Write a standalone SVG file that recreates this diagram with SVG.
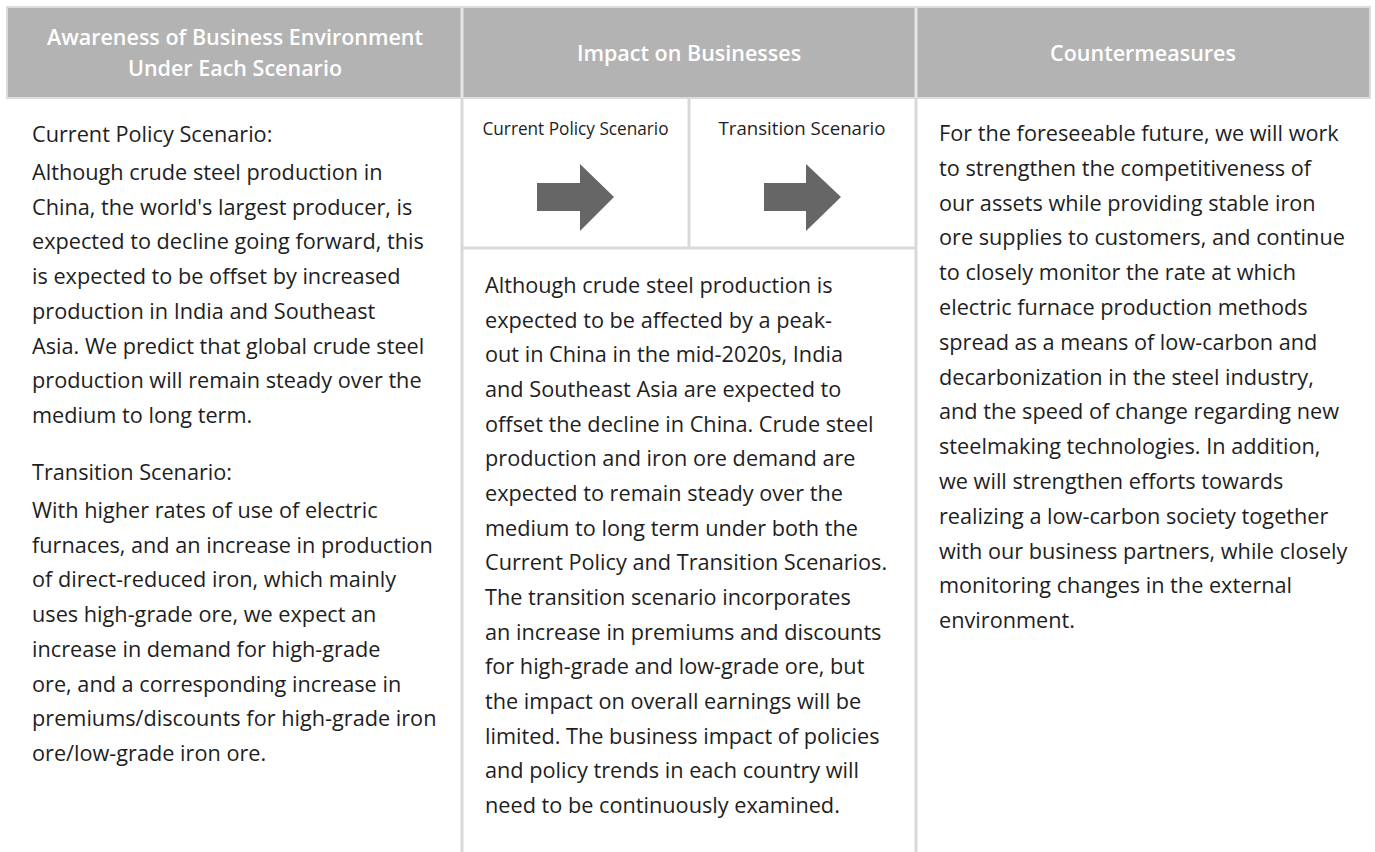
<svg xmlns="http://www.w3.org/2000/svg" width="1375" height="852" viewBox="0 0 1375 852">
<style>
.hd{font-family:"Open Sans","Noto Sans","Liberation Sans",sans-serif;font-size:21.5px;font-weight:600;fill:#ffffff;text-anchor:middle}
.bd{font-family:"Open Sans","Noto Sans","Liberation Sans",sans-serif;font-size:21.7px;fill:#1e1e1e}
.sm{font-family:"Open Sans","Noto Sans","Liberation Sans",sans-serif;font-size:18.5px;fill:#1e1e1e;text-anchor:middle}
.ln{stroke:#d9d9d9;stroke-width:3;fill:none}
.wl{stroke:#e6e6e6;stroke-width:3}
.ar{fill:#666666}
</style>
<rect x="0" y="0" width="1375" height="852" fill="#ffffff"/>
<g id="header">
<rect x="7" y="7" width="1363" height="91" fill="#b3b3b3" stroke="#dcdcdc" stroke-width="2"/>
<line class="wl" x1="462" y1="8" x2="462" y2="97"/>
<line class="wl" x1="916" y1="8" x2="916" y2="97"/>
<text class="hd" x="235" y="45">Awareness of Business Environment</text>
<text class="hd" x="235" y="76">Under Each Scenario</text>
<text class="hd" x="689" y="61">Impact on Businesses</text>
<text class="hd" x="1143" y="61">Countermeasures</text>
</g>
<g id="grid">
<line class="ln" x1="462" y1="98" x2="462" y2="852"/>
<line class="ln" x1="916" y1="98" x2="916" y2="852"/>
<line class="ln" x1="689" y1="98" x2="689" y2="248"/>
<line class="ln" x1="462" y1="248" x2="916" y2="248"/>
</g>
<g id="col-awareness">
<text class="bd" x="32" y="142">Current Policy Scenario:</text>
<text class="bd" x="32" y="180">Although crude steel production in</text>
<text class="bd" x="32" y="214.7">China, the world's largest producer, is</text>
<text class="bd" x="32" y="249.4">expected to decline going forward, this</text>
<text class="bd" x="32" y="284.1">is expected to be offset by increased</text>
<text class="bd" x="32" y="318.8">production in India and Southeast</text>
<text class="bd" x="32" y="353.5">Asia. We predict that global crude steel</text>
<text class="bd" x="32" y="388.2">production will remain steady over the</text>
<text class="bd" x="32" y="422.9">medium to long term.</text>
<text class="bd" x="32" y="480">Transition Scenario:</text>
<text class="bd" x="32" y="518">With higher rates of use of electric</text>
<text class="bd" x="32" y="552.7">furnaces, and an increase in production</text>
<text class="bd" x="32" y="587.4">of direct-reduced iron, which mainly</text>
<text class="bd" x="32" y="622.1">uses high-grade ore, we expect an</text>
<text class="bd" x="32" y="656.8">increase in demand for high-grade</text>
<text class="bd" x="32" y="691.5">ore, and a corresponding increase in</text>
<text class="bd" x="32" y="726.2">premiums/discounts for high-grade iron</text>
<text class="bd" x="32" y="760.9">ore/low-grade iron ore.</text>
</g>
<g id="current-policy-cell">
<text class="sm" x="575.5" y="135" textLength="186" lengthAdjust="spacingAndGlyphs">Current Policy Scenario</text>
<polygon class="ar" points="537,183 580,183 580,164 614,197 580,231 580,211 537,211"/>
</g>
<g id="transition-cell">
<text class="sm" x="802" y="135" textLength="167" lengthAdjust="spacingAndGlyphs">Transition Scenario</text>
<polygon class="ar" points="764,183 806,183 806,164 841,197 806,231 806,211 764,211"/>
</g>
<g id="col-impact">
<text class="bd" x="485" y="293">Although crude steel production is</text>
<text class="bd" x="485" y="327.7">expected to be affected by a peak-</text>
<text class="bd" x="485" y="362.3">out in China in the mid-2020s, India</text>
<text class="bd" x="485" y="397">and Southeast Asia are expected to</text>
<text class="bd" x="485" y="431.7">offset the decline in China. Crude steel</text>
<text class="bd" x="485" y="466.3">production and iron ore demand are</text>
<text class="bd" x="485" y="501">expected to remain steady over the</text>
<text class="bd" x="485" y="535.7">medium to long term under both the</text>
<text class="bd" x="485" y="570.3">Current Policy and Transition Scenarios.</text>
<text class="bd" x="485" y="605">The transition scenario incorporates</text>
<text class="bd" x="485" y="639.7">an increase in premiums and discounts</text>
<text class="bd" x="485" y="674.3">for high-grade and low-grade ore, but</text>
<text class="bd" x="485" y="709">the impact on overall earnings will be</text>
<text class="bd" x="485" y="743.7">limited. The business impact of policies</text>
<text class="bd" x="485" y="778.3">and policy trends in each country will</text>
<text class="bd" x="485" y="813">need to be continuously examined.</text>
</g>
<g id="col-countermeasures">
<text class="bd" x="939" y="141">For the foreseeable future, we will work</text>
<text class="bd" x="939" y="175.8">to strengthen the competitiveness of</text>
<text class="bd" x="939" y="210.6">our assets while providing stable iron</text>
<text class="bd" x="939" y="245.4">ore supplies to customers, and continue</text>
<text class="bd" x="939" y="280.2">to closely monitor the rate at which</text>
<text class="bd" x="939" y="315">electric furnace production methods</text>
<text class="bd" x="939" y="349.8">spread as a means of low-carbon and</text>
<text class="bd" x="939" y="384.6">decarbonization in the steel industry,</text>
<text class="bd" x="939" y="419.4">and the speed of change regarding new</text>
<text class="bd" x="939" y="454.2">steelmaking technologies. In addition,</text>
<text class="bd" x="939" y="489">we will strengthen efforts towards</text>
<text class="bd" x="939" y="523.8">realizing a low-carbon society together</text>
<text class="bd" x="939" y="558.6">with our business partners, while closely</text>
<text class="bd" x="939" y="593.4">monitoring changes in the external</text>
<text class="bd" x="939" y="628.2">environment.</text>
</g>
</svg>
